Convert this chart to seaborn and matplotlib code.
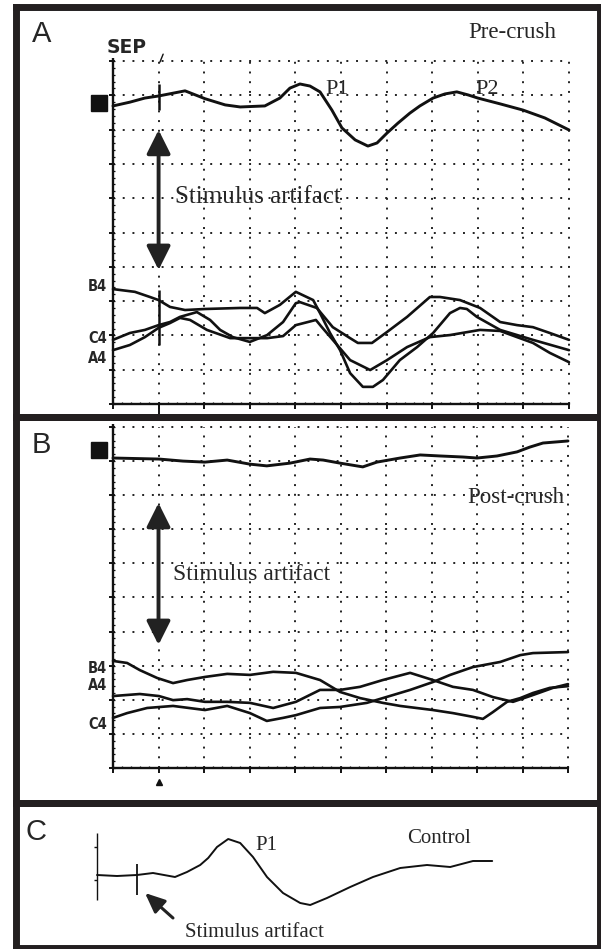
import matplotlib
matplotlib.use("Agg")
import numpy as np
import matplotlib.pyplot as plt
import seaborn as sns
from matplotlib import font_manager

# All trace values are in oscilloscope grid divisions (x: time, y: amplitude)

# ---- A: pre-crush ----
a_sep_t = [0, 0.37, 0.70, 1.0, 1.58, 2.02, 2.46, 2.79, 3.33, 3.66, 3.88, 4.10, 4.32, 4.54,
           4.80, 5.02, 5.31, 5.59, 5.79, 6.01, 6.25, 6.51, 6.73, 7.02, 7.28, 7.54, 7.79,
           8.00, 8.49, 8.99, 9.47, 10.0]
a_sep_v = [8.69, 8.80, 8.92, 8.98, 9.13, 8.90, 8.72, 8.66, 8.69, 8.92, 9.21, 9.33, 9.27, 9.10,
           8.57, 8.05, 7.70, 7.52, 7.61, 7.90, 8.19, 8.48, 8.69, 8.92, 9.04, 9.10, 9.01,
           8.92, 8.75, 8.57, 8.34, 7.99]

a_b4_t = [0, 0.48, 0.81, 1.0, 1.25, 1.58, 2.02, 2.79, 3.16, 3.33, 3.66, 4.01, 4.39, 4.54,
          4.76, 4.98, 5.20, 5.48, 5.70, 5.92, 6.29, 6.67, 7.02, 7.39, 7.61, 7.76, 7.98,
          8.49, 9.21, 10.0]
a_b4_v = [3.35, 3.27, 3.12, 3.03, 2.83, 2.74, 2.77, 2.80, 2.80, 2.65, 2.89, 3.27, 3.03, 2.65,
          2.07, 1.57, 0.90, 0.50, 0.50, 0.70, 1.28, 1.66, 2.07, 2.65, 2.80, 2.77, 2.54,
          2.16, 1.87, 1.57]

a_c4_t = [0, 0.37, 0.70, 1.0, 1.25, 1.47, 1.84, 2.13, 2.35, 2.63, 3.00, 3.38, 3.73, 4.01,
          4.10, 4.47, 4.82, 5.20, 5.37, 5.68, 6.01, 6.45, 6.95, 7.17, 7.61, 8.05, 8.49,
          8.86, 9.21, 9.58, 10.0]
a_c4_v = [1.87, 2.07, 2.16, 2.30, 2.39, 2.54, 2.68, 2.45, 2.16, 1.95, 1.81, 2.01, 2.39, 2.94,
          2.97, 2.80, 2.24, 1.92, 1.78, 1.78, 2.10, 2.54, 3.12, 3.12, 3.03, 2.80, 2.39,
          2.30, 2.24, 2.07, 1.87]

a_a4_t = [0, 0.37, 0.70, 1.0, 1.25, 1.47, 1.69, 2.06, 2.57, 3.00, 3.38, 3.73, 4.01, 4.45,
          4.58, 4.82, 5.20, 5.64, 6.01, 6.45, 6.95, 7.39, 8.05, 8.49, 9.21, 9.58, 10.0]
a_a4_v = [1.57, 1.72, 1.95, 2.22, 2.36, 2.51, 2.45, 2.16, 1.92, 1.92, 1.92, 1.98, 2.30, 2.45,
          2.24, 1.87, 1.28, 0.99, 1.28, 1.66, 1.95, 2.01, 2.16, 2.13, 1.78, 1.49, 1.22]

a_spikes = [(8.57, 9.33), (1.72, 3.32)]

# ---- B: post-crush ----
b_sep_t = [0, 1.01, 1.54, 2.02, 2.51, 3.01, 3.38, 3.89, 4.33, 4.62, 4.99, 5.49, 5.80, 6.31,
           6.75, 7.19, 7.69, 8.00, 8.44, 8.88, 9.16, 9.45, 10.0]
b_sep_v = [9.09, 9.06, 9.00, 8.97, 9.03, 8.91, 8.86, 8.94, 9.06, 9.03, 8.94, 8.83, 8.97, 9.09,
           9.18, 9.15, 9.12, 9.09, 9.15, 9.27, 9.41, 9.53, 9.59]

b_b4_t = [0, 0.31, 0.59, 0.97, 1.32, 1.63, 2.02, 2.51, 3.01, 3.52, 4.02, 4.55, 4.99, 5.43,
          5.93, 6.31, 7.03, 7.47, 7.91, 8.13, 8.35, 8.66, 8.95, 9.23, 9.60, 10.0]
b_b4_v = [3.14, 3.08, 2.87, 2.64, 2.49, 2.58, 2.67, 2.76, 2.73, 2.82, 2.79, 2.58, 2.23, 2.05,
          1.91, 1.82, 1.70, 1.61, 1.50, 1.44, 1.64, 1.94, 2.05, 2.20, 2.35, 2.40]

b_a4_t = [0, 0.59, 1.01, 1.32, 1.63, 2.02, 2.51, 3.01, 3.52, 4.02, 4.55, 4.99, 5.43, 5.93,
          6.53, 7.03, 7.47, 7.91, 8.35, 8.79, 9.23, 9.67, 10.0]
b_a4_v = [2.11, 2.17, 2.11, 1.99, 2.02, 1.94, 1.94, 1.91, 1.76, 1.94, 2.29, 2.29, 2.38, 2.58,
          2.79, 2.58, 2.38, 2.29, 2.08, 1.94, 2.14, 2.35, 2.46]

b_c4_t = [0, 0.31, 0.75, 1.32, 2.02, 2.51, 3.01, 3.38, 3.74, 4.02, 4.55, 4.99, 5.58, 5.93,
          6.53, 7.03, 7.41, 7.91, 8.51, 8.95, 9.23, 10.0]
b_c4_v = [1.47, 1.61, 1.76, 1.82, 1.70, 1.82, 1.61, 1.38, 1.47, 1.55, 1.76, 1.79, 1.91, 2.05,
          2.29, 2.52, 2.73, 2.96, 3.11, 3.31, 3.37, 3.40]

# ---- C: control ----
c_t = [0, 0.5, 1.0, 1.4, 1.95, 2.25, 2.58, 2.78, 3.0, 3.28, 3.58, 3.9, 4.25, 4.65, 5.08,
       5.33, 5.75, 6.33, 6.9, 7.58, 8.25, 8.83, 9.4, 9.88]
c_v = [0, -0.05, 0, 0.1, -0.1, 0.15, 0.5, 0.85, 1.4, 1.8, 1.6, 0.9, -0.1, -0.9, -1.4,
       -1.5, -1.15, -0.6, -0.1, 0.35, 0.5, 0.4, 0.7, 0.7]
c_spike = (-1.0, 0.55)

INK = "#111111"
FRAME = "#231f20"
SERIF = ["Liberation Serif", "DejaVu Serif"]
SANS = ["Liberation Sans", "DejaVu Sans"]
names = {f.name for f in font_manager.fontManager.ttflist}
NARROW = ["Liberation Sans Narrow"] if "Liberation Sans Narrow" in names else ["DejaVu Sans"]

sns.set_style("white")
plt.rcParams["font.family"] = SERIF


def trace(ax, t, v, lw=1.9):
    sns.lineplot(x=t, y=v, ax=ax, color=INK, lw=lw, sort=False,
                 estimator=None, legend=False)


def frame(ax, xlim, ylim):
    ax.set_xlim(*xlim)
    ax.set_ylim(*ylim)
    ax.set_xticks([])
    ax.set_yticks([])
    ax.set_xlabel("")
    ax.set_ylabel("")
    ax.patch.set_visible(False)
    for s in ax.spines.values():
        s.set_visible(True)
        s.set_linewidth(5)
        s.set_color(FRAME)


def scope_grid(ax, stim_tick):
    dot = dict(color="#222222", lw=1.4, linestyle=(0, (1, 4)))
    for k in range(1, 11):
        ax.hlines(k, 0, 10, **dot)
        ax.vlines(k, 0, 10, **dot)
    ax.vlines(0, 0, 10.1, color=INK, lw=1.7)
    ax.hlines(0, 0, 10, color=INK, lw=1.7)
    # major ticks
    ax.vlines(np.arange(0, 11), -0.15, 0, color=INK, lw=1.4)
    ax.hlines(np.arange(0, 11), -0.09, 0, color=INK, lw=1.4)
    # minor ticks
    ax.vlines(np.arange(0, 10.01, 0.2), 0, 0.07, color=INK, lw=0.9)
    ax.hlines(np.arange(0, 10.01, 0.2), 0, 0.05, color=INK, lw=0.9)
    stim_tick(ax)


def channel_labels(ax, labels):
    for lab, yv in labels:
        ax.text(-0.13, yv, lab, family=NARROW, fontweight="bold", fontstretch="condensed",
                fontsize=10.5, ha="right", va="center")


def double_arrow(ax, y_top, y_bottom):
    ax.annotate("", xy=(1.0, y_top), xytext=(1.0, y_bottom),
                arrowprops=dict(arrowstyle="<|-|>,head_length=0.8,head_width=0.4",
                                mutation_scale=18, lw=2.8, color="#222222",
                                shrinkA=0, shrinkB=0))


fig = plt.figure(figsize=(6.01, 9.49), dpi=100)

# ================= A =================
axA = fig.add_axes([0.02745, 0.56059, 0.97088, 0.43256])
scope_grid(axA, lambda ax: ax.vlines(1, -0.3, 0, color=INK, lw=1.4))
trace(axA, a_sep_t, a_sep_v, lw=2.1)
trace(axA, a_b4_t, a_b4_v)
trace(axA, a_c4_t, a_c4_v)
trace(axA, a_a4_t, a_a4_v)
for lo, hi in a_spikes:
    axA.vlines(1.0, lo, hi, color=INK, lw=1.8)
axA.plot([1.03, 1.10], [9.97, 10.2], color=INK, lw=1.0)
axA.plot([-0.31], [8.79], marker="s", ms=12, color=INK)
axA.text(-1.56, 10.80, "A", family=SANS, fontsize=21, ha="center", va="center")
axA.text(0.31, 10.23, "SEP", family=["DejaVu Sans"], fontweight="bold", fontsize=13.5,
         ha="center", va="baseline")
axA.text(7.79, 10.67, "Pre-crush", fontsize=16.5, ha="left", va="baseline")
axA.text(4.92, 9.04, "P1", fontsize=16, ha="center", va="baseline")
axA.text(8.21, 9.04, "P2", fontsize=16, ha="center", va="baseline")
axA.text(1.36, 5.86, "Stimulus artifact", fontsize=18, ha="left", va="baseline")
channel_labels(axA, [("B4", 3.44), ("C4", 1.90), ("A4", 1.34)])
double_arrow(axA, 7.99, 3.91)
frame(axA, (-2.116, 10.680), (-0.379, 11.589))

# ================= B =================
axB = fig.add_axes([0.02745, 0.15332, 0.97088, 0.40727])
scope_grid(axB, lambda ax: ax.plot([1.0], [-0.42], marker="^", ms=5, color=INK))
trace(axB, b_sep_t, b_sep_v, lw=2.1)
trace(axB, b_b4_t, b_b4_v)
trace(axB, b_a4_t, b_a4_v)
trace(axB, b_c4_t, b_c4_v)
axB.plot([-0.31], [9.33], marker="s", ms=12, color=INK)
axB.text(-1.58, 9.47, "B", family=SANS, fontsize=21, ha="center", va="center")
axB.text(7.78, 7.77, "Post-crush", fontsize=16.5, ha="left", va="baseline")
axB.text(1.32, 5.51, "Stimulus artifact", fontsize=17, ha="left", va="baseline")
channel_labels(axB, [("B4", 2.93), ("A4", 2.43), ("C4", 1.29)])
double_arrow(axB, 7.77, 3.61)
frame(axB, (-2.121, 10.703), (-1.041, 10.293))

# ================= C =================
axC = fig.add_axes([0.02745, 0.00105, 0.97088, 0.15227])
axC.vlines(0, -1.25, 2.1, color=INK, lw=1.0)
axC.hlines([1.4, -0.25], -0.08, 0, color=INK, lw=1.0)
trace(axC, c_t, c_v, lw=1.4)
axC.vlines(1.0, *c_spike, color=INK, lw=1.3)
axC.text(-1.53, 2.15, "C", family=SANS, fontsize=21, ha="center", va="center")
axC.text(3.95, 1.25, "P1", fontsize=15, ha="left", va="baseline")
axC.text(7.75, 1.6, "Control", fontsize=15, ha="left", va="baseline")
axC.text(2.2, -3.1, "Stimulus artifact", fontsize=15, ha="left", va="baseline")
axC.annotate("", xy=(1.2, -0.9), xytext=(1.9, -2.15),
             arrowprops=dict(arrowstyle="-|>,head_length=0.8,head_width=0.35",
                             mutation_scale=15, lw=2.2, color="#222222",
                             shrinkA=0, shrinkB=0))
frame(axC, (-2.0125, 12.575), (-3.65, 3.575))

fig.savefig("out.png", dpi=100)
